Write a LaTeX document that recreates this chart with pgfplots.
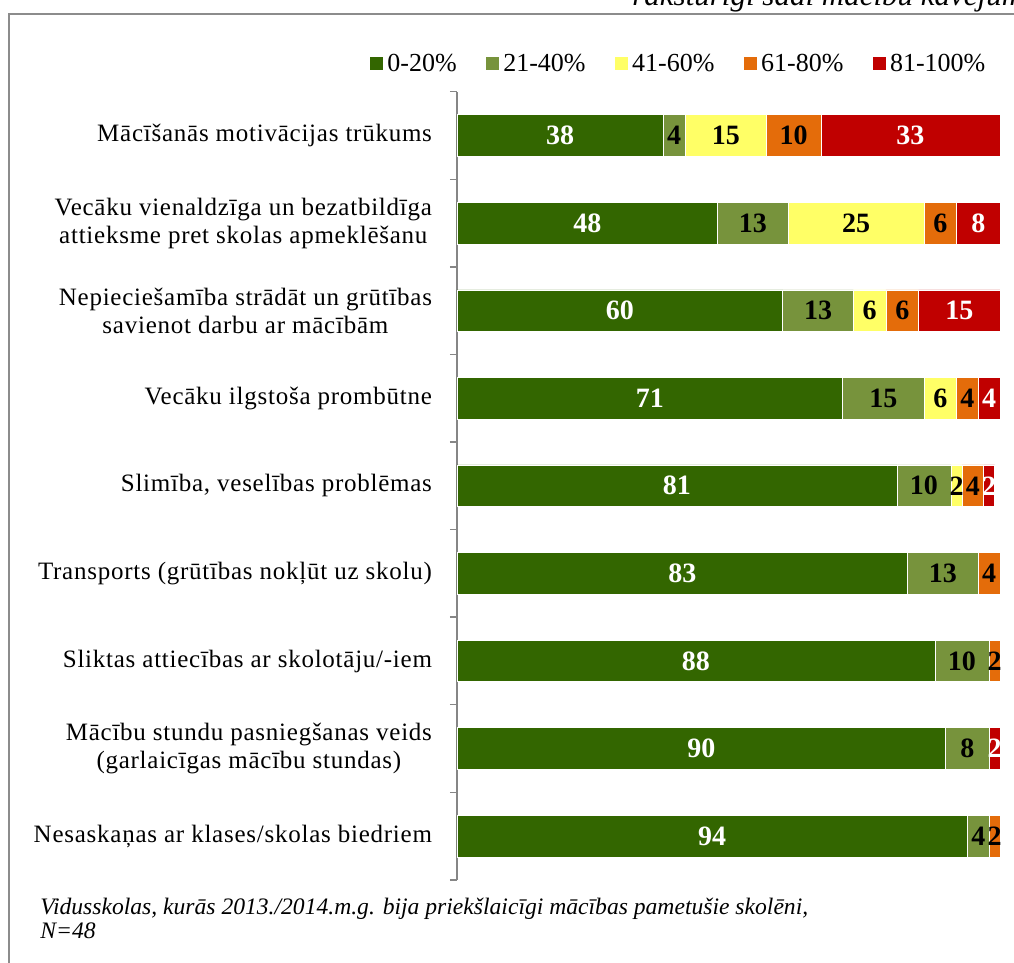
\documentclass[border=0pt]{standalone}
\usepackage{fontspec}
\setmainfont{Liberation Serif}
\usepackage{pgfplots}
\usepackage{pgfplotstable}
\pgfplotsset{compat=1.18}

\definecolor{c1}{HTML}{336600}
\definecolor{c2}{HTML}{77933C}
\definecolor{c3}{HTML}{FFFF66}
\definecolor{c4}{HTML}{E46C0A}
\definecolor{c5}{HTML}{C00000}
\definecolor{framegray}{HTML}{8C8C8C}
\definecolor{axisgray}{HTML}{868686}

% rows bottom to top; columns: 0-20, 21-40, 41-60, 61-80, 81-100 (%)
\pgfplotstableread{
c a  b  m  d  e
0 94 4  0  2  0
1 90 8  0  0  2
2 88 10 0  2  0
3 83 13 0  4  0
4 81 10 2  4  2
5 71 15 6  4  4
6 60 13 6  6  15
7 48 13 25 6  8
8 38 4  15 10 33
}\data

\begin{document}
\begin{tikzpicture}
\path[use as bounding box] (0,0) rectangle (507pt,481.5pt);
\begin{scope}
\clip (0,0) rectangle (507pt,481.5pt);
\draw[framegray, line width=0.8pt] (4.5pt,-10pt) -- (4.5pt,474.5pt) -- (520pt,474.5pt);
\node[anchor=base west, inner sep=0pt, font=\fontsize{15.5}{17}\selectfont\itshape]
  at (316pt,478.5pt) {raksturīgi šādi mācību kavējumi};
\end{scope}
\node[anchor=base west, inner sep=0pt, align=left,
      font=\fontsize{11.8}{12.2}\selectfont\itshape] at (20pt,12pt)
  {Vidusskolas, kurās 2013./2014.m.g. bija priekšlaicīgi mācības pametušie skolēni,\\N=48};

\begin{axis}[
  at={(228.5pt,41.5pt)}, anchor=south west,
  scale only axis, width=271.5pt, height=394.2pt,
  xbar stacked, bar width=20.8pt,
  xmin=0, xmax=100, ymin=-0.5, ymax=8.5,
  axis x line=none, axis y line*=left,
  y axis line style={axisgray, line width=0.7pt, -},
  ytick={-0.5,0.5,...,8.5}, yticklabels={},
  major tick length=3.5pt, tick align=outside,
  tick style={axisgray, line width=0.7pt},
  extra y ticks={0,1,2,3,4,5,6,7,8},
  extra y tick labels={
    Nesaskaņas ar klases/skolas biedriem,
    {Mācību stundu pasniegšanas veids\\(garlaicīgas mācību stundas)},
    Sliktas attiecības ar skolotāju/-iem,
    Transports (grūtības nokļūt uz skolu),
    {Slimība, veselības problēmas},
    Vecāku ilgstoša prombūtne,
    {Nepieciešamība strādāt un grūtības\\savienot darbu ar mācībām},
    {Vecāku vienaldzīga un bezatbildīga\\attieksme pret skolas apmeklēšanu},
    Mācīšanās motivācijas trūkums},
  extra y tick style={major tick length=0pt,
    yticklabel style={align=center,
      font=\fontsize{12.5}{14}\selectfont\addfontfeature{LetterSpace=3}, xshift=-9pt}},
  every axis plot/.append style={draw=white, line width=0.3pt},
  point meta=explicit,
  /pgf/number format/assume math mode=true,
  nodes near coords={\pgfmathfloatifflags{\pgfplotspointmeta}{0}{}{\pgfmathprintnumber{\pgfplotspointmeta}}},
  every node near coord/.append style={anchor=center,
    font=\fontsize{14}{15}\selectfont\bfseries, text=black},
  legend columns=-1,
  legend image code/.code={\fill[#1, draw=none] (0pt,-3.25pt) rectangle (6.5pt,3.25pt);},
  legend style={draw=none, fill=none, inner sep=0pt,
    at={(-0.1602,1.0351)}, anchor=west,
    font=\fontsize{13}{15}\selectfont,
    /tikz/every even column/.append style={column sep=12.8pt}},
]
\addplot[fill=c1, every node near coord/.append style={text=white}] table[x=a, y=c, meta=a] {\data};
\addplot[fill=c2] table[x=b, y=c, meta=b] {\data};
\addplot[fill=c3] table[x=m, y=c, meta=m] {\data};
\addplot[fill=c4] table[x=d, y=c, meta=d] {\data};
\addplot[fill=c5, every node near coord/.append style={text=white}] table[x=e, y=c, meta=e] {\data};
\legend{0-20\%, 21-40\%, 41-60\%, 61-80\%, 81-100\%}
\end{axis}
\end{tikzpicture}
\end{document}
